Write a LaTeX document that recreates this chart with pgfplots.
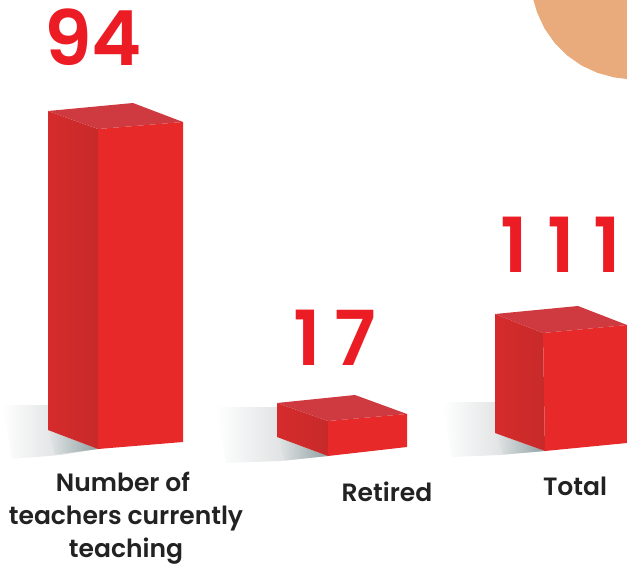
\documentclass[border=0pt]{standalone}
\usepackage{fontspec}
\setmainfont{Poppins}
\newfontfamily\numfont{Poppins SemiBold}
\newfontfamily\labfont{Poppins SemiBold}
\usepackage{pgfplots}
\pgfplotsset{compat=1.18}
\definecolor{barfront}{HTML}{E8292A}
\definecolor{barlefta}{HTML}{D62B2C}
\definecolor{barleftb}{HTML}{C72A2A}
\definecolor{bartop}{HTML}{CE3A3F}
\definecolor{numred}{HTML}{EC1C24}
\definecolor{blob}{HTML}{E9AB7C}
\definecolor{shad}{HTML}{B4BABC}
\definecolor{shaddark}{HTML}{8FA0A2}
\definecolor{txt}{HTML}{222222}
\begin{document}
\begin{tikzpicture}
\path[use as bounding box] (0,0) rectangle (627pt,567pt);
\begin{axis}[
  at={(0,0)},anchor=south west,
  width=627pt,height=567pt,scale only axis,
  xmin=0,xmax=627,ymin=0,ymax=567,y dir=reverse,
  axis lines=none,clip=true,
]
\addplot[draw=none,fill=blob] coordinates {(533.4,0)(537.1,12.5)(544.5,28.5)(554.6,42.9)(567.1,55.4)(581.5,65.5)(597.5,72.9)(614.5,77.5)(627,79)(627,0)} --cycle;
\addplot[draw=none,left color=white,right color=shad!70] coordinates {(2,405)(48,405)(48,430)(98,449)(60,455)(12,459)} --cycle;
\addplot[draw=none,left color=white,right color=shad!70] coordinates {(216,407)(277,407)(277,437)(328,456)(280,461)(226,463)} --cycle;
\addplot[draw=none,left color=white,right color=shad!70] coordinates {(442,402)(495,402)(495,433)(545,451)(500,455)(452,457)} --cycle;
\addplot[draw=none,left color=shad!36,right color=shaddark] coordinates {(48,430)(98,449)(55,454.5)} --cycle;
\addplot[draw=none,left color=shad!36,right color=shaddark] coordinates {(277,437)(328,456)(285,460.5)} --cycle;
\addplot[draw=none,left color=shad!36,right color=shaddark] coordinates {(495,433)(545,451)(503,454.5)} --cycle;
\addplot[draw=none,left color=barlefta,right color=barleftb] coordinates {(48,111)(98,129)(98,449)(48,430)} --cycle;
\addplot[draw=none,fill=barfront] coordinates {(98,129)(183,122)(183,442)(98,449)} --cycle;
\addplot[draw=none,fill=bartop] coordinates {(48,111)(133,103)(183,122)(98,129)} --cycle;
\addplot[draw=none,left color=barlefta,right color=barleftb] coordinates {(277,403)(328,421)(328,456)(277,437)} --cycle;
\addplot[draw=none,fill=barfront] coordinates {(328,421)(407,414)(407,447)(328,456)} --cycle;
\addplot[draw=none,fill=bartop] coordinates {(277,403)(355,395)(407,414)(328,421)} --cycle;
\addplot[draw=none,left color=barlefta,right color=barleftb] coordinates {(495,314)(543,333)(545,451)(495,433)} --cycle;
\addplot[draw=none,fill=barfront] coordinates {(543,333)(627,325)(627,443)(545,451)} --cycle;
\addplot[draw=none,fill=bartop] coordinates {(495,314)(578,306)(627,325)(543,333)} --cycle;
\node[text=numred,font=\fontsize{76}{76}\numfont,inner sep=0pt,anchor=base] at (axis cs:93,66) {94};
\node[text=numred,font=\fontsize{76}{76}\numfont,inner sep=0pt,anchor=base] at (axis cs:335,365) {1\hspace{13pt}7};
\node[text=numred,font=\fontsize{76}{76}\numfont,inner sep=0pt,anchor=base] at (axis cs:561,272) {1\hspace{19pt}1\hspace{19pt}1};
\node[text=txt,font=\fontsize{25}{25}\labfont,inner sep=0pt,anchor=base] at (axis cs:123,491) {Number of};
\node[text=txt,font=\fontsize{25}{25}\labfont,inner sep=0pt,anchor=base] at (axis cs:126,524) {teachers currently};
\node[text=txt,font=\fontsize{25}{25}\labfont,inner sep=0pt,anchor=base] at (axis cs:126,557) {teaching};
\node[text=txt,font=\fontsize{25}{25}\labfont,inner sep=0pt,anchor=base] at (axis cs:387,501) {Retired};
\node[text=txt,font=\fontsize{25}{25}\labfont,inner sep=0pt,anchor=base] at (axis cs:575,495) {Total};
\end{axis}
\end{tikzpicture}
\end{document}
